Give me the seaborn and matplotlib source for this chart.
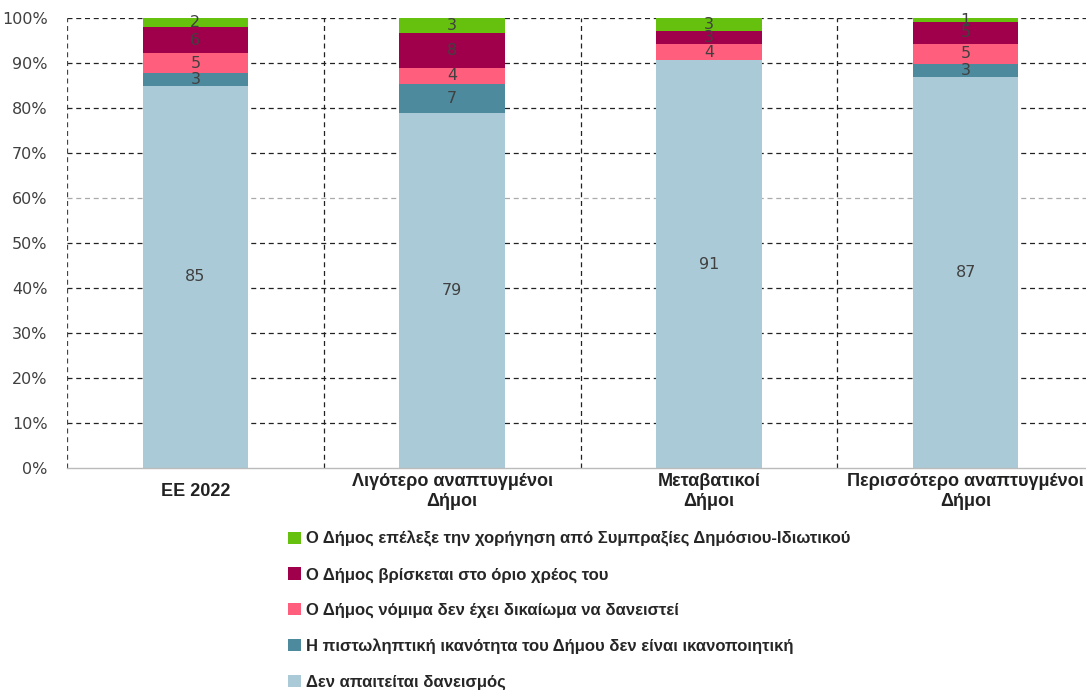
import matplotlib
matplotlib.use("Agg")
import matplotlib.pyplot as plt
import seaborn as sns
import pandas as pd
import numpy as np
from matplotlib.patches import Patch

categories = ["ΕΕ 2022", "Λιγότερο αναπτυγμένοι\nΔήμοι", "Μεταβατικοί\nΔήμοι",
              "Περισσότερο αναπτυγμένοι\nΔήμοι"]
series_names = [
    "Δεν απαιτείται δανεισμός",
    "Η πιστωληπτική ικανότητα του Δήμου δεν είναι ικανοποιητική",
    "Ο Δήμος νόμιμα δεν έχει δικαίωμα να δανειστεί",
    "Ο Δήμος βρίσκεται στο όριο χρέος του",
    "Ο Δήμος επέλεξε την χορήγηση από Συμπραξίες Δημόσιου-Ιδιωτικού",
]
no_borrowing = [84.9, 78.8, 90.6, 86.9]
credit = [2.8, 6.6, 0.0, 2.8]
legal = [4.6, 3.6, 3.6, 4.6]
debt_limit = [5.6, 7.6, 2.9, 4.8]
ppp = [2.1, 3.4, 2.9, 0.9]
colors = ["#A9CAD6", "#4E8A9D", "#FF5E7C", "#A0004B", "#66C00E"]
yticks = [0, 10, 20, 30, 40, 50, 60, 70, 80, 90, 100]

sns.set_style("white")
plt.rcParams['font.family'] = ['Liberation Sans', 'DejaVu Sans']

values = [no_borrowing, credit, legal, debt_limit, ppp]
df = pd.DataFrame({n: v for n, v in zip(series_names, values)}, index=categories)

fig = plt.figure(figsize=(10.86, 6.90), dpi=100)
ax = fig.add_axes([67 / 1086, 1 - 468 / 690, (1094 - 67) / 1086, 450 / 690])

bottom = np.zeros(len(categories))
for name, col in zip(series_names, colors):
    d = pd.DataFrame({"cat": categories, "val": df[name].values})
    sns.barplot(data=d, x="cat", y="val", bottom=bottom, color=col, width=0.41,
                ax=ax, saturation=1, linewidth=0, order=categories)
    for i, v in enumerate(df[name].values):
        if v > 0:
            ax.text(i, bottom[i] + v / 2, str(int(np.floor(v + 0.5))), ha="center",
                    va="center", fontsize=11.5, color="#404040", family="DejaVu Sans")
    bottom = bottom + df[name].values

ax.set_ylim(0, 100)
ax.set_xlim(-0.5, 3.5)
ax.set_yticks(yticks)
ax.set_yticklabels([f"{t}%" for t in yticks], fontsize=11.5, color="#404040",
                   family="DejaVu Sans")
ax.set_xlabel("")
ax.set_ylabel("")
ax.set_xticks(range(len(categories)))
ax.set_xticklabels(categories, fontsize=13, fontweight="bold", color="#222222",
                   va="center", linespacing=1.25)
ax.tick_params(axis="x", length=0, pad=17)
ax.tick_params(axis="y", length=0, pad=14)

for t in yticks[1:]:
    c = "#AAAAAA" if t == 60 else "#222222"
    ax.axhline(t, color=c, linestyle=(0, (4, 3)), linewidth=0.9, zorder=0)
for x in [0.5, 1.5, 2.5]:
    ax.axvline(x, color="#222222", linestyle=(0, (4, 3)), linewidth=0.9, zorder=0)
ax.axvline(-0.5, color="#444444", linestyle=(0, (4, 3)), linewidth=0.9, zorder=0)

for s in ["top", "right", "left"]:
    ax.spines[s].set_visible(False)
ax.spines["bottom"].set_color("#BBBBBB")
ax.spines["bottom"].set_linewidth(1)

handles = [Patch(facecolor=c, edgecolor="none") for c in colors][::-1]
labels = series_names[::-1]
fig.legend(handles, labels, loc="upper left", bbox_to_anchor=(273 / 1086, 1 - 516 / 690),
           frameon=False, handlelength=0.75, handleheight=0.75, handletextpad=0.35,
           labelspacing=1.22, prop={"weight": "bold", "size": 12})

fig.savefig("out.png", dpi=100)
